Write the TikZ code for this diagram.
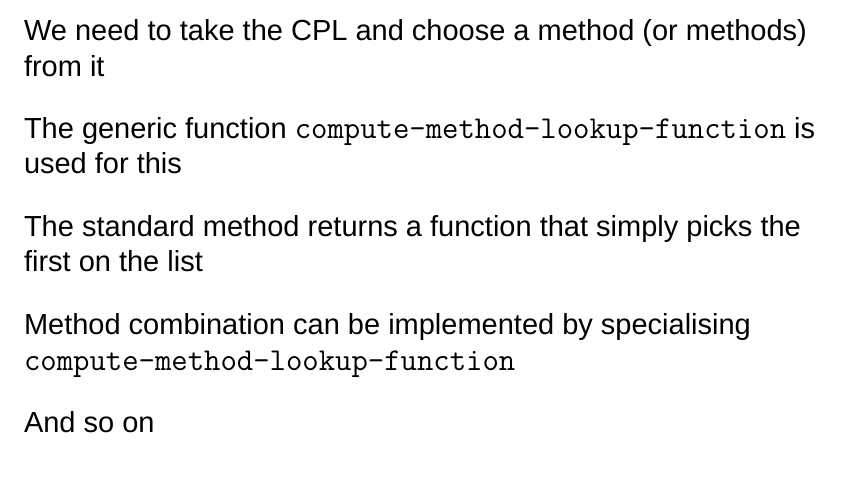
\documentclass[tikz,border=0pt]{standalone}
\usepackage{fontspec}
\setmainfont{Liberation Sans}
\setmonofont{Latin Modern Mono}
\newcommand{\cmtt}[1]{{\fontsize{31.8pt}{36pt}\selectfont\ttfamily #1}}
\begin{document}
\begin{tikzpicture}[x=1pt,y=-1pt,
  line/.style={anchor=base west, inner sep=0pt, outer sep=0pt, font=\fontsize{29pt}{36pt}\selectfont}]
\useasboundingbox (0,0) rectangle (842,477);
\node[line] (l1) at (24,40) {We need to take the CPL and choose a method (or methods)};
\node[line] (l2) at (24,76) {from it};
\node[line] (l3) at (24,138) {The generic function \cmtt{compute-method-lookup-function} is};
\node[line] (l4) at (24,173) {used for this};
\node[line] (l5) at (24,236) {The standard method returns a function that simply picks the};
\node[line] (l6) at (24,271) {first on the list};
\node[line] (l7) at (24,334) {Method combination can be implemented by specialising};
\node[line] (l8) at (24,370) {\cmtt{compute-method-lookup-function}};
\node[line] (l9) at (24,432) {And so on};
\end{tikzpicture}
\end{document}
